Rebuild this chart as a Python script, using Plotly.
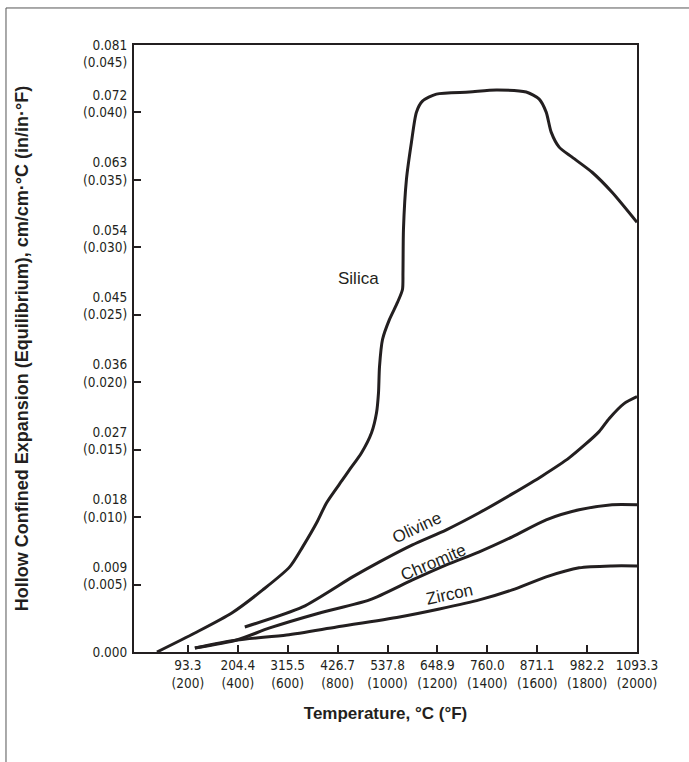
import plotly.graph_objects as go

# Temperature in °F, expansion in cm/cm·°C
silica_f = [76, 228, 376, 500, 608, 660, 716, 756, 820, 848, 896, 936, 956, 964, 968, 980, 1008, 1040, 1060, 1062, 1064, 1076, 1096, 1116, 1140, 1196, 1328, 1436, 1556, 1608, 1636, 1656, 1688, 1740, 1820, 1900, 2000]
silica_v = [0.0, 0.00254, 0.00521, 0.00829, 0.01136, 0.01403, 0.01724, 0.01992, 0.02299, 0.02433, 0.02660, 0.02927, 0.03194, 0.03462, 0.03809, 0.04170, 0.04438, 0.04665, 0.04838, 0.05066, 0.05640, 0.06309, 0.06803, 0.07204, 0.07351, 0.07445, 0.07472, 0.07498, 0.07472, 0.07378, 0.07204, 0.06937, 0.06737, 0.06603, 0.06402, 0.06135, 0.05734]

olivine_f = [428, 660, 860, 968, 1100, 1236, 1368, 1500, 1620, 1728, 1848, 1888, 1948, 2000]
olivine_v = [0.00334, 0.00601, 0.01002, 0.01203, 0.01430, 0.01631, 0.01858, 0.02110, 0.02350, 0.02590, 0.02941, 0.03114, 0.03315, 0.03408]

chromite_f = [228, 396, 528, 728, 928, 1100, 1236, 1368, 1500, 1636, 1768, 1900, 2000]
chromite_v = [0.00053, 0.00160, 0.00321, 0.00521, 0.00695, 0.00962, 0.01163, 0.01337, 0.01537, 0.01764, 0.01898, 0.01965, 0.01965]

zircon_f = [228, 396, 596, 796, 1048, 1208, 1368, 1500, 1636, 1768, 1900, 2000]
zircon_v = [0.00053, 0.00160, 0.00227, 0.00334, 0.00468, 0.00575, 0.00695, 0.00829, 0.01002, 0.01123, 0.01149, 0.01149]

x_tick_f = [200, 400, 600, 800, 1000, 1200, 1400, 1600, 1800, 2000]
x_tick_c = ["93.3", "204.4", "315.5", "426.7", "537.8", "648.9", "760.0", "871.1", "982.2", "1093.3"]

y_tick_cm = [0.000, 0.009, 0.018, 0.027, 0.036, 0.045, 0.054, 0.063, 0.072, 0.081]
y_tick_cm_lbl = ["0.000", "0.009", "0.018", "0.027", "0.036", "0.045", "0.054", "0.063", "0.072", "0.081"]
y_tick_in_lbl = ["", "0.005", "0.010", "0.015", "0.020", "0.025", "0.030", "0.035", "0.040", "0.045"]

INK = "#231f20"
NARROW = "Liberation Sans Narrow, DejaVu Sans Condensed, sans-serif"
SANS = "Liberation Sans, Arial, Helvetica, sans-serif"

fig = go.Figure()
for xs, ys, name in [(silica_f, silica_v, "Silica"), (olivine_f, olivine_v, "Olivine"),
                     (chromite_f, chromite_v, "Chromite"), (zircon_f, zircon_v, "Zircon")]:
    fig.add_trace(go.Scatter(x=xs, y=ys, mode="lines", name=name,
                             line=dict(color=INK, width=3, shape="spline", smoothing=0.7),
                             showlegend=False, hoverinfo="skip"))

xt = [f"{c}<br>({f})" for c, f in zip(x_tick_c, x_tick_f)]
yt = []
for i, (a, b) in enumerate(zip(y_tick_cm_lbl, y_tick_in_lbl)):
    if i == 0:
        yt.append(a)
    elif i == len(y_tick_cm_lbl) - 1:
        yt.append(f"\u00a0<br>{a}<br>({b})")
    else:
        yt.append(f"{a}<br>({b})<br>\u00a0")

fig.update_layout(
    width=689, height=762,
    margin=dict(l=134, r=52, t=45, b=110),
    paper_bgcolor="white", plot_bgcolor="white",
    font=dict(family=NARROW, size=13.5, color=INK),
    xaxis=dict(range=[-16, 2000], tickvals=x_tick_f, ticktext=xt,
               ticks="inside", ticklen=7, tickwidth=2, tickcolor=INK,
               showline=True, linewidth=2, linecolor=INK, mirror=True,
               showgrid=False, zeroline=False,
               tickfont=dict(family=NARROW, size=13.5, color=INK),
               title=dict(text="Temperature, °C (°F)", standoff=17,
                          font=dict(family=SANS, size=17, color=INK, weight="bold"))),
    yaxis=dict(range=[0, 0.081], tickvals=y_tick_cm, ticktext=yt,
               ticks="inside", ticklen=7, tickwidth=2, tickcolor=INK,
               showline=True, linewidth=2, linecolor=INK, mirror=True,
               showgrid=False, zeroline=False, ticklabelstandoff=2,
               tickfont=dict(family=NARROW, size=13.5, color=INK),
               title=dict(text="Hollow Confined Expansion (Equilibrium), cm/cm·°C (in/in·°F)", standoff=50,
                          font=dict(family=SANS, size=18, color=INK, weight="bold"))),
)

labels = [("Silica", 884, 0.04986, 0), ("Olivine", 1120, 0.01657, -25),
          ("Chromite", 1184, 0.01190, -23), ("Zircon", 1248, 0.00762, -12)]
for txt, x, y, ang in labels:
    fig.add_annotation(x=x, y=y, text=txt, showarrow=False, textangle=ang,
                       font=dict(family=SANS, size=17, color=INK))

# outer frame (left and top edges)
fig.add_shape(type="line", xref="paper", yref="paper", x0=-0.2545, x1=-0.2545, y0=1.061, y1=-0.3,
              line=dict(color="#555555", width=1))
fig.add_shape(type="line", xref="paper", yref="paper", x0=-0.2545, x1=1.2, y0=1.061, y1=1.061,
              line=dict(color="#555555", width=1))

fig.write_html("out.html", config={"displayModeBar": False},
               post_script="document.body.style.margin='0px';")
